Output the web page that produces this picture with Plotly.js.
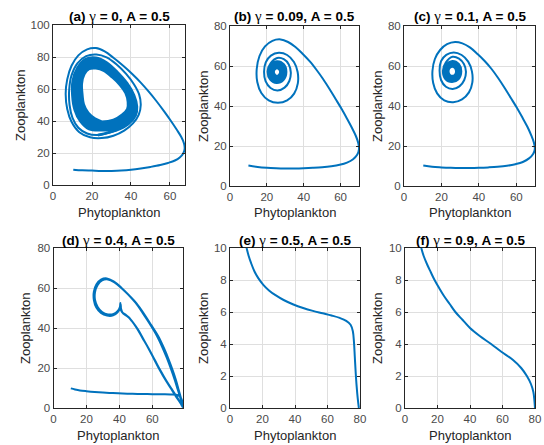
<!DOCTYPE html>
<html>
<head>
<meta charset="utf-8">
<script src="https://cdn.plot.ly/plotly-3.0.1.min.js"></script>
<style>html,body{margin:0;padding:0;background:#fff;}#chart{width:544px;height:445px;}</style>
</head>
<body>
<div id="chart"></div>
<script>
// ---------------- DATA ----------------
const panelLetters = ['(a)', '(b)', '(c)', '(d)', '(e)', '(f)'];
const gammaValues = ['0', '0.09', '0.1', '0.4', '0.5', '0.9'];
const amplitude = '0.5';
const xLabel = 'Phytoplankton';
const yLabel = 'Zooplankton';

const xMax = [67.7, 70, 70, 78.6, 80, 80];
const yMax = [100, 80, 80, 80, 10, 10];
const xTicks = [[0,20,40,60],[0,20,40,60],[0,20,40,60],[0,20,40,60],[0,20,40,60,80],[0,20,40,60,80]];
const yTicks = [[0,20,40,60,80,100],[0,20,40,60,80],[0,20,40,60,80],[0,20,40,60,80],[0,2,4,6,8,10],[0,2,4,6,8,10]];

// (a) transient part
const trajA = [
[10.4,9.6],[15,9.2],[20,9.0],[25,8.8],[30,8.8],[35,9.0],[40,9.5],[45,10.3],[50,11.3],[55,12.5],[59,13.8],[62.5,15.3],[65,17.2],[66.7,19.6],[67.5,22.5],[67.2,26],[65.8,30],[63.5,34.5],[60.5,40],[57,46],[53,52.5],[49,58.5],[45,64],[40.5,69.5],[36,74.5],[31,79.5],[26.5,83.5],[22,85.6],[17.5,84.8],[13,81],[9.5,74.5],[7.3,66],[6.5,57],[7.3,47.5],[9.5,39.5],[13.5,33],[19,29.8],[25,29.3],[31,30.8],[36.5,34],[41,38.5],[44,44],[45,50],[44.2,56.5],[41.5,63],[37.5,69.5],[32.5,75.5],[27.5,79.8],[22.3,81.6],[17,80.6],[12.5,76],[9.5,68.5],[8.3,59.5],[8.5,50],[10,42],[13,35.8],[17.5,32.2],[23,31.2],[32.5,34.2]
];
// (a) dense band of loops the trajectory settles into
const bandA = [
[23,31.2],[32.5,34.2],[38.5,38],[42.3,43.5],[43,49],[41.5,56],[38,63.5],[33,70.5],[27.5,76.5],[22,79.5],[16.5,78.5],[12.5,73],[10.2,65],[10,56],[11.2,47],[14,40],[18.5,35],
[25,34.3],[32.2,35.4],[37.9,39.1],[41.5,44.3],[42.1,49.6],[40.7,56.3],[37.3,63.4],[32.5,70],[27.2,75.6],[22,78.3],[16.9,77.4],[13.2,72.3],[11.1,64.7],[11,56],[12.1,47.6],[14.8,41],[19.1,36.2],
[25,35.6],[31.9,36.7],[37.3,40.2],[40.6,45.1],[41.2,50.1],[39.8,56.6],[36.6,63.2],[32,69.3],[26.9,74.6],[22,77],[17.3,76.2],[13.9,71.5],[12,64.3],[12,56],[13,48.2],[15.6,42],[19.7,37.5],
[25,36.9],[31.6,38],[36.7,41.4],[39.8,45.9],[40.3,50.7],[39,56.9],[35.9,63],[31.5,68.6],[26.6,73.6],[22,75.7],[17.7,75],[14.6,70.8],[12.9,64],[13,56],[13.9,48.9],[16.4,43],[20.3,38.8],
[25,38.2],[31.3,39.3],[36.1,42.6],[39,46.7],[39.4,51.3],[38.1,57.2],[35.2,62.7],[31,68],[26.3,72.6],[22,74.4],[18.1,73.8],[15.3,70.1],[13.8,63.7],[14,56],[14.8,49.6],[17.2,44],[20.9,40.1],
[25,39.5],[31,40.6],[35.5,43.8],[38.2,47.5],[38.5,52],[37.3,57.5],[34.5,62.5],[30.5,67.3],[26,71.6],[22,73],[18.5,72.6],[16,69.4],[14.7,63.4],[15,56],[15.7,50.3],[18,45],[21.5,41.4],[25,39.5]
];

// (b) spiral into a small dense cycle
const trajB = [
[10,10.2],[15,9.5],[20,9.1],[25,8.9],[30,8.8],[35,8.8],[40,8.9],[45,9.1],[50,9.4],[55,9.9],[59.5,10.6],[63.5,11.7],[66.8,13.4],[69,15.6],[70,18.5],[69.6,21.5],[68.3,25],[66.2,29],[63.6,33.5],[60.6,38.5],[57.3,43.5],[54,48.5],[50.5,53.5],[47,58],[43.3,62.3],[39.5,66],[35.5,69.5],[31.5,72],[27.5,73.3],[23,72.6],[19,69.8],[16,65],[14.5,58.5],[14.8,52],[17,46.5],[21,42.8],[26,41.6],[31,42.8],[34.8,46.2],[36.8,51.3],[36.7,57],[34.7,62],[31,65.5],[26.5,66.6],[22.2,65.2],[19.4,61.8],[18.5,57.2],[19.3,52.4],[22,49],[25.8,47.8],[29.6,49.2],[32.2,52.5],[33,56.8],[31.9,60.8],[29.2,63.4],[25.6,64],
[22.1,61.4],[20.4,57.3],[21.8,53.2],[25.3,51.5],[29,53],[30.6,57],[29.2,60.9],[25.5,62.4],
[22.3,60.6],[21,57.1],[22.3,53.6],[25.5,52.1],[28.7,53.5],[30,57],[28.7,60.5],[25.5,61.8],
[22.8,60.1],[21.6,57],[22.8,54],[25.5,52.7],[28.2,54],[29.4,57],[28.2,60],[25.5,61.2],
[23.2,59.6],[22.2,57],[23.2,54.4],[25.5,53.3],[27.8,54.4],[28.8,57],[27.8,59.6],[25.5,60.6],
[23.6,59.1],[22.8,57],[23.6,54.9],[25.5,54],[27.4,54.9],[28.2,57],[27.4,59.1],[25.5,60],
[24,58.7],[23.4,57],[24.1,55.3],[25.5,54.6],[26.9,55.3],[27.6,57],[26.9,58.7],[25.5,59.4],
[24.3,58.3],[23.8,57],[24.4,55.7],[25.5,55.1],[26.6,55.7],[27.2,57],[26.6,58.3],[25.5,58.9],[24.3,58.3]
];

// (c) spiral into a small dense cycle
const trajC = [
[10.3,10.2],[15,9.6],[20,9.3],[25,9.1],[30,9.0],[35,9.0],[40,9.1],[45,9.3],[50,9.6],[55,10.1],[59.5,10.9],[63.5,12],[66.8,13.8],[69,16],[69.9,18.5],[69.4,21.8],[68,25.3],[66,29.5],[63.4,34],[60.4,39],[57.1,44],[53.8,49],[50.3,54],[46.8,58.5],[43.1,62.5],[39.3,66],[35.2,69.3],[31.2,71.3],[27.3,72],[23,70.9],[19.3,68],[16.5,63.5],[15.2,57.5],[15.6,51.5],[17.7,46.3],[21.5,42.8],[26.3,41.9],[31,43.3],[34.7,46.8],[36.5,51.7],[36.3,57.3],[34.3,62.2],[30.8,65.5],[26.6,66.8],[22.6,65.6],[19.8,62.4],[19,57.8],[19.8,53],[22.4,49.6],[26,48.5],[29.6,49.8],[32.2,53],[33.1,57.2],[32,61],[29.4,63.7],[25.9,64.6],
[22.4,61.8],[20.8,57.6],[22.1,53.5],[25.6,52],[29.1,53.4],[30.6,57.3],[29.3,61],[25.8,62.5],
[22.7,60.8],[21.4,57.4],[22.6,53.9],[25.7,52.6],[28.7,53.9],[30,57.3],[28.8,60.6],[25.8,61.9],
[23.1,60.3],[22,57.3],[23.1,54.3],[25.8,53.2],[28.4,54.3],[29.4,57.3],[28.4,60.2],[25.8,61.3],
[23.5,59.8],[22.6,57.3],[23.5,54.8],[25.8,53.8],[28,54.8],[28.9,57.3],[28,59.8],[25.8,60.7],
[23.9,59.3],[23.2,57.3],[23.9,55.2],[25.8,54.4],[27.6,55.2],[28.4,57.3],[27.6,59.3],[25.8,60.1],
[24.3,58.9],[23.8,57.3],[24.4,55.7],[25.8,55.1],[27.2,55.7],[27.8,57.3],[27.2,58.9],[25.8,59.6],[24.3,58.9]
];

// (d) transient + loop that returns to the corner
const trajD = [
[10.5,9.8],[13,9.3],[16,8.8],[20,8.4],[25,8],[30,7.7],[36,7.45],[42,7.25],[48,7.1],[54,7],[60,6.9],[66,6.85],[71,6.8],[74.5,6.6],[76.8,5.8],[77.9,4],[78.4,2],[78.5,0.5],
[78.2,1.6],[77.5,4.5],[76,9],[74.3,14],[72.3,19],[69.8,24.5],[67,30],[63.5,36],[59.3,41.5],[55,47],[50.5,52.2],[46,56.2],[41.5,59.8],[37,62.8],[33,64.3],[29.5,63.8],[26.8,61.5],[25.2,58],[25.2,54],[26.8,50.5],[29.5,48],[33,46.8],[36.5,47],[39,48.5],[40.3,50.5],[40.6,52.5],[40.7,50],[41.5,48],[43.5,46.8],[45.5,45.5],[47.5,43.5],[50.5,40],[54,35],[57.5,30],[61,24.5],[64.5,19],[68,14],[71.5,9.5],[74.5,5.5],[77,2.5],[78.4,0.5],
[78,1.9],[77,5],[75.3,9.5],[73.4,14.5],[71.3,19.5],[68.8,25],[66,30.5],[62.5,36.5],[58.5,42],[54.3,47.3],[49.9,52.5],[45.5,56.6],[41,60.3],[36.5,63.3],[32.4,64.8],[28.8,64.2],[26,61.8],[24.5,58.2],[24.5,54],[26,50.2],[28.8,47.5],[32.5,46.2],[36.2,46.3],[38.9,47.8],[40.4,50],[40.8,51.8],[41,49.6],[42,47.6],[44,46.3],[46,45],[48.2,42.8],[51.2,39.3],[54.6,34.4],[58,29.4],[61.5,24],[65,18.6],[68.5,13.6],[72,9.2],[75,5.3],[77.3,2.3],[78.5,0.4]
];

// (e)
const trajE = [
[10.2,10],[11.5,9.5],[13,9.05],[15,8.55],[17.5,8.1],[20.5,7.7],[24,7.35],[28,7.05],[33,6.75],[39,6.47],[45,6.25],[51,6.07],[57,5.92],[62.5,5.78],[67.5,5.63],[71.5,5.45],[74.2,5.2],[75.6,4.8],[76.3,4.1],[76.8,3.2],[77.3,2.3],[77.9,1.4],[78.6,0.6],[79.3,0]
];

// (f)
const trajF = [
[10,10],[11.5,9.5],[13.5,9],[15.8,8.5],[18.2,8],[21,7.5],[24,7],[27.5,6.5],[31,6],[35.5,5.5],[40,5],[46,4.5],[53,4],[59.5,3.5],[66.5,3],[71.5,2.5],[75,2],[77.5,1.5],[79,1],[79.6,0.5],[80,0]
];

// [panel index, points, line width]
const series = [[0, trajA, 2], [0, bandA, 2.8], [1, trajB, 2], [2, trajC, 2], [3, trajD, 2], [4, trajE, 2], [5, trajF, 2]];

// ---------------- LAYOUT ----------------
const W = 544, H = 445;
const FONT = 'Arial, "Liberation Sans", sans-serif';
const LINE = '#0072BD';
// plot boxes in pixels: [left, right, top, bottom]
const boxes = [[53,185,25,185],[230,359,26,186],[404,535,26,186],
               [53.5,183,248,408],[230,360,248,408],[405,535,248,408]];
const titleY = [16,16,16,240,240,240];
const xLabY = [212,212,212,435,435,435];
const yLabX = [20,203,377,25,203,377];

const axId = i => (i === 0 ? '' : String(i + 1));
const data = series.map(s => ({
  type: 'scatter', mode: 'lines',
  x: s[1].map(p => p[0]), y: s[1].map(p => p[1]),
  xaxis: 'x' + axId(s[0]), yaxis: 'y' + axId(s[0]),
  line: {color: LINE, width: s[2], shape: 'spline', smoothing: 1},
  hoverinfo: 'skip'
}));

const layout = {
  width: W, height: H,
  margin: {l:0, r:0, t:0, b:0},
  paper_bgcolor: '#ffffff', plot_bgcolor: '#ffffff',
  showlegend: false,
  font: {family: FONT, color: '#262626'},
  annotations: []
};

for (let i = 0; i < 6; i++) {
  const b = boxes[i];
  const common = {
    showgrid: true, gridcolor: '#dfdfdf', gridwidth: 1,
    zeroline: false, showline: true, linecolor: '#262626', linewidth: 1,
    mirror: 'ticks', ticks: 'inside', ticklen: 3, tickcolor: '#262626',
    tickfont: {family: FONT, size: 11.5, color: '#4a4a4a'},
    fixedrange: true
  };
  layout['xaxis' + axId(i)] = Object.assign({}, common, {
    domain: [b[0]/W, b[1]/W], anchor: 'y' + axId(i), range: [0, xMax[i]],
    tickmode: 'array', tickvals: xTicks[i], ticktext: xTicks[i].map(String)
  });
  layout['yaxis' + axId(i)] = Object.assign({}, common, {
    domain: [1 - b[3]/H, 1 - b[2]/H], anchor: 'x' + axId(i), range: [0, yMax[i]],
    tickmode: 'array', tickvals: yTicks[i], ticktext: yTicks[i].map(String)
  });
  const cx = (b[0] + b[1]) / 2, cy = (b[2] + b[3]) / 2;
  layout.annotations.push({
    xref: 'paper', yref: 'paper', x: cx/W, y: 1 - titleY[i]/H,
    xanchor: 'center', yanchor: 'middle', showarrow: false,
    text: '<b>' + panelLetters[i] + ' </b><span style="font-family:Liberation Serif;font-size:15px">γ</span><b> = ' +
          gammaValues[i] + ', A = ' + amplitude + '</b>',
    font: {family: FONT, size: 13.5, color: '#000000'}
  });
  layout.annotations.push({
    xref: 'paper', yref: 'paper', x: cx/W, y: 1 - xLabY[i]/H,
    xanchor: 'center', yanchor: 'middle', showarrow: false,
    text: xLabel, font: {family: FONT, size: 13, color: '#262626'}
  });
  layout.annotations.push({
    xref: 'paper', yref: 'paper', x: yLabX[i]/W, y: 1 - cy/H,
    xanchor: 'center', yanchor: 'middle', showarrow: false, textangle: -90,
    text: yLabel, font: {family: FONT, size: 13, color: '#262626'}
  });
}

Plotly.newPlot('chart', data, layout, {staticPlot: true, displayModeBar: false});
</script>
</body>
</html>
